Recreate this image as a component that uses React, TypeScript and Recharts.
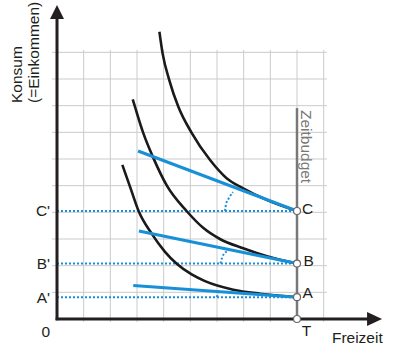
import React from "react";
import { ComposedChart, Line, XAxis, YAxis, ReferenceDot } from "recharts";

// one unit = one grid square
const gridSteps = [1, 2, 3, 4, 5, 6, 7, 8, 9, 10];
const timeBudget = 9;
const levelC = 4.05;
const levelB = 2.08;
const levelA = 0.82;

// Indifferenzkurven
const curveC = [
  { x: 3.84, y: 10.77 },
  { x: 3.96, y: 9.96 },
  { x: 4.21, y: 8.96 },
  { x: 4.55, y: 7.96 },
  { x: 5.05, y: 6.98 },
  { x: 5.74, y: 5.96 },
  { x: 6.36, y: 5.28 },
  { x: 6.98, y: 4.9 },
  { x: 7.88, y: 4.46 },
  { x: 9, y: 4.05 },
];
const curveB = [
  { x: 2.84, y: 8.24 },
  { x: 2.96, y: 7.84 },
  { x: 3.24, y: 6.96 },
  { x: 3.6, y: 6.07 },
  { x: 4.12, y: 5.0 },
  { x: 4.86, y: 4.05 },
  { x: 5.48, y: 3.42 },
  { x: 6.11, y: 3.0 },
  { x: 6.98, y: 2.65 },
  { x: 7.91, y: 2.34 },
  { x: 9, y: 2.08 },
];
const curveA = [
  { x: 2.45, y: 5.78 },
  { x: 2.76, y: 4.9 },
  { x: 3.06, y: 4.05 },
  { x: 3.55, y: 3.2 },
  { x: 4.05, y: 2.52 },
  { x: 4.49, y: 2.07 },
  { x: 5.05, y: 1.67 },
  { x: 5.55, y: 1.42 },
  { x: 6.61, y: 1.1 },
  { x: 7.61, y: 0.95 },
  { x: 8.36, y: 0.87 },
  { x: 9, y: 0.82 },
];

// Budgetgeraden
const budgetC = [
  { x: 3.04, y: 6.3 },
  { x: 9, y: 4.05 },
];
const budgetB = [
  { x: 3.07, y: 3.3 },
  { x: 9, y: 2.08 },
];
const budgetA = [
  { x: 2.86, y: 1.26 },
  { x: 9, y: 0.82 },
];

// Winkelmarkierungen
const angleC = [
  { x: 6.3, y: 4.05 },
  { x: 6.34, y: 4.31 },
  { x: 6.45, y: 4.54 },
  { x: 6.6, y: 4.76 },
];
const angleB = [
  { x: 6.13, y: 2.08 },
  { x: 6.19, y: 2.29 },
  { x: 6.26, y: 2.44 },
  { x: 6.37, y: 2.53 },
];
const angleA = [
  { x: 6.0, y: 0.82 },
  { x: 6.02, y: 0.92 },
  { x: 6.06, y: 1.01 },
];

const BLUE = "#1790d8";
const INK = "#231f20";
const GRAY = "#787878";
const FONT = "'Liberation Sans', Arial, sans-serif";

const seg = (x1: number, y1: number, x2: number, y2: number) => [
  { x: x1, y: y1 },
  { x: x2, y: y2 },
];

const label =
  (text: string, anchor: string, rotate = 0, color = INK, dy = "0.35em") =>
  (p: any) =>
    (
      <text
        x={p.cx}
        y={p.cy}
        dy={dy}
        textAnchor={anchor}
        fill={color}
        fontSize={15.5}
        fontFamily={FONT}
        transform={rotate ? `rotate(${rotate} ${p.cx} ${p.cy})` : undefined}
      >
        {text}
      </text>
    );

const arrowUp = (p: any) => (
  <polygon
    points={`${p.cx},${p.cy} ${p.cx - 7},${p.cy + 14} ${p.cx + 7},${p.cy + 14}`}
    fill={INK}
  />
);
const arrowRight = (p: any) => (
  <polygon
    points={`${p.cx},${p.cy} ${p.cx - 15},${p.cy - 7} ${p.cx - 15},${p.cy + 7}`}
    fill={INK}
  />
);
const point = (p: any) => (
  <circle cx={p.cx} cy={p.cy} r={3.5} fill="#fff" stroke="#666" strokeWidth={1.2} />
);

const plain = { dot: false, activeDot: false, isAnimationActive: false, legendType: "none" as const };

export default function App() {
  return (
    <div style={{ position: "absolute", left: 0, top: 0, width: 400, height: 354, background: "#fff" }}>
      <ComposedChart width={400} height={354} margin={{ top: 0, right: 0, bottom: 0, left: 0 }}>
        <XAxis type="number" dataKey="x" domain={[-2.1375, 12.8625]} allowDataOverflow hide />
        <YAxis type="number" dataKey="y" domain={[-1.3125, 11.9625]} allowDataOverflow hide />

        {/* Raster */}
        {gridSteps.map((g) => (
          <Line key={"v" + g} data={seg(g, -0.11, g, 10.09)} dataKey="y" stroke="#cbcbcb" strokeWidth={1} {...plain} />
        ))}
        {gridSteps.map((g) => (
          <Line key={"h" + g} data={seg(-0.19, g, 10.12, g)} dataKey="y" stroke="#cbcbcb" strokeWidth={1} {...plain} />
        ))}

        {/* gepunktete Hilfslinien */}
        {[levelC, levelB, levelA].map((l) => (
          <Line key={"d" + l} data={seg(0, l, timeBudget, l)} dataKey="y" stroke={BLUE} strokeWidth={2} strokeDasharray="2 2" {...plain} />
        ))}
        <Line data={angleC} dataKey="y" type="monotone" stroke={BLUE} strokeWidth={2} strokeDasharray="2 2" {...plain} />
        <Line data={angleB} dataKey="y" type="monotone" stroke={BLUE} strokeWidth={2} strokeDasharray="2 2" {...plain} />
        <Line data={angleA} dataKey="y" type="monotone" stroke={BLUE} strokeWidth={2} strokeDasharray="2 2" {...plain} />

        {/* Indifferenzkurven */}
        <Line data={curveC} dataKey="y" type="monotone" stroke="#1a1a1a" strokeWidth={2.6} {...plain} />
        <Line data={curveB} dataKey="y" type="monotone" stroke="#1a1a1a" strokeWidth={2.6} {...plain} />
        <Line data={curveA} dataKey="y" type="monotone" stroke="#1a1a1a" strokeWidth={2.6} {...plain} />

        {/* Budgetgeraden */}
        <Line data={budgetC} dataKey="y" stroke={BLUE} strokeWidth={3} {...plain} />
        <Line data={budgetB} dataKey="y" stroke={BLUE} strokeWidth={3} {...plain} />
        <Line data={budgetA} dataKey="y" stroke={BLUE} strokeWidth={3} {...plain} />

        {/* Zeitbudget */}
        <Line data={seg(timeBudget, 0, timeBudget, 7.91)} dataKey="y" stroke={GRAY} strokeWidth={2.5} {...plain} />

        {/* Achsen */}
        <Line data={seg(0, -0.05, 0, 11.35)} dataKey="y" stroke={INK} strokeWidth={3} {...plain} />
        <Line data={seg(-0.05, 0, 11.7, 0)} dataKey="y" stroke={INK} strokeWidth={3} {...plain} />
        <ReferenceDot x={0} y={11.775} ifOverflow="visible" shape={arrowUp} />
        <ReferenceDot x={12.19} y={0} ifOverflow="visible" shape={arrowRight} />

        {/* Punkte */}
        <ReferenceDot x={timeBudget} y={levelC} ifOverflow="visible" shape={point} />
        <ReferenceDot x={timeBudget} y={levelB} ifOverflow="visible" shape={point} />
        <ReferenceDot x={timeBudget} y={levelA} ifOverflow="visible" shape={point} />
        <ReferenceDot x={timeBudget} y={0} ifOverflow="visible" shape={point} />

        {/* Beschriftung */}
        <ReferenceDot x={-1.3125} y={8.1} ifOverflow="visible" shape={label("Konsum", "start", -90, INK, "0")} />
        <ReferenceDot x={-0.66} y={8.1} ifOverflow="visible" shape={label("(=Einkommen)", "start", -90, INK, "0")} />
        <ReferenceDot x={9.15} y={7.84} ifOverflow="visible" shape={label("Zeitbudget", "start", 90, GRAY, "0")} />
        <ReferenceDot x={-0.26} y={levelC} ifOverflow="visible" shape={label("C'", "end")} />
        <ReferenceDot x={-0.26} y={2.06} ifOverflow="visible" shape={label("B'", "end")} />
        <ReferenceDot x={-0.26} y={0.79} ifOverflow="visible" shape={label("A'", "end")} />
        <ReferenceDot x={-0.26} y={-0.475} ifOverflow="visible" shape={label("0", "end")} />
        <ReferenceDot x={9.19} y={4.125} ifOverflow="visible" shape={label("C", "start")} />
        <ReferenceDot x={9.24} y={2.175} ifOverflow="visible" shape={label("B", "start")} />
        <ReferenceDot x={9.21} y={1.0} ifOverflow="visible" shape={label("A", "start")} />
        <ReferenceDot x={9.36} y={-0.425} ifOverflow="visible" shape={label("T", "middle")} />
        <ReferenceDot x={10.31} y={-0.71} ifOverflow="visible" shape={label("Freizeit", "start")} />
      </ComposedChart>
    </div>
  );
}
